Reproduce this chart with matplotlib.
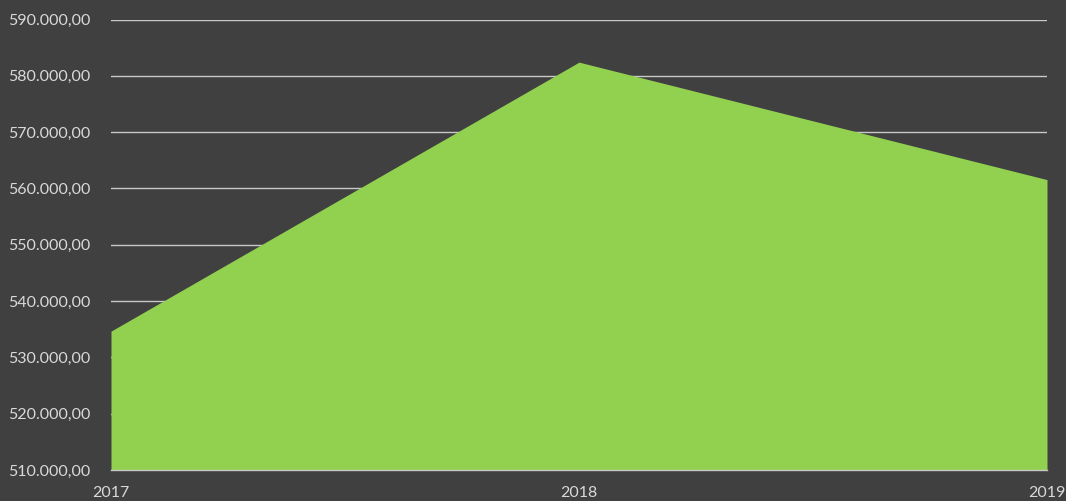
import matplotlib
matplotlib.use("Agg")
import matplotlib.pyplot as plt
from matplotlib.ticker import FuncFormatter

years = ["2017", "2018", "2019"]
values = [534660, 582430, 561570]
yticks = list(range(510000, 590001, 10000))

bg = "#404040"
green = "#92d050"
txt = "#d9d9d9"

plt.rcParams["font.family"] = ["Lato", "DejaVu Sans"]

fig = plt.figure(figsize=(10.66, 5.01), dpi=100, facecolor=bg)
ax = fig.add_axes([111 / 1066, 1 - 470 / 501, (1047 - 111) / 1066, (470 - 19.5) / 501])
ax.set_facecolor(bg)

x = list(range(len(years)))
ax.fill_between(x, 510000, values, color=green, linewidth=0, zorder=2)

ax.set_xlim(0, len(years) - 1)
ax.set_ylim(510000, 590000)
ax.set_yticks(yticks)
ax.set_xticks(x)
ax.set_xticklabels(years)

def de_fmt(v, pos):
    s = f"{v:,.2f}"
    return s.replace(",", "X").replace(".", ",").replace("X", ".")

ax.yaxis.set_major_formatter(FuncFormatter(de_fmt))
ax.grid(axis="y", color="#c8c8c8", linewidth=1, zorder=1)
ax.set_axisbelow(True)

for s in ["top", "right", "left"]:
    ax.spines[s].set_visible(False)
ax.spines["bottom"].set_color("#c8c8c8")
ax.spines["bottom"].set_linewidth(1)
ax.spines["bottom"].set_zorder(3)

ax.tick_params(axis="both", length=0, colors=txt, labelsize=11.5)
ax.tick_params(axis="y", pad=15)
ax.tick_params(axis="x", pad=11.5)

fig.savefig("out.png", dpi=100, facecolor=bg)
